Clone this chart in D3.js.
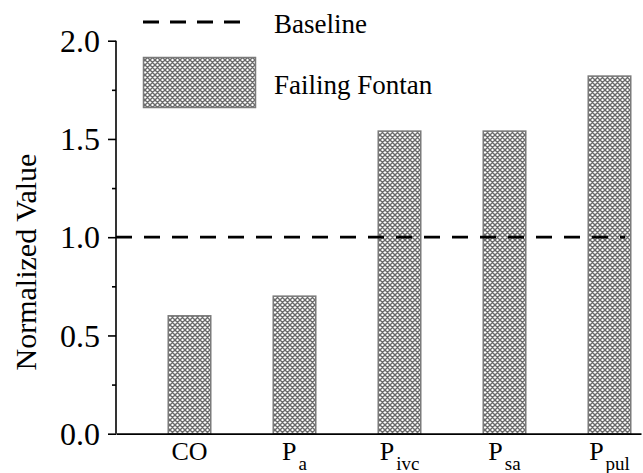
<!DOCTYPE html>
<html>
<head>
<meta charset="utf-8">
<script src="https://cdn.jsdelivr.net/npm/d3@7"></script>
<style>
  html, body { margin: 0; padding: 0; background: #fff; }
  svg { display: block; }
</style>
</head>
<body>
<svg id="chart" width="643" height="473"></svg>
<script>
// ---- data ----
const categories = ["CO", "P", "P", "P", "P"];
const subscripts = ["", "a", "ivc", "sa", "pul"];
const failingFontan = [0.60, 0.70, 1.54, 1.54, 1.82];
const baselineValue = 1.0;
const yMajorTicks = [0.0, 0.5, 1.0, 1.5, 2.0];
const yMinorTicks = [0.25, 0.75, 1.25, 1.75];
const legendLabels = ["Baseline", "Failing Fontan"];

const FONT = "Liberation Serif";

const svg = d3.select("#chart");

// pattern
const defs = svg.append("defs");
const pat = defs.append("pattern")
  .attr("id", "hatch")
  .attr("patternUnits", "userSpaceOnUse")
  .attr("width", 5).attr("height", 5);
pat.append("rect").attr("width", 5).attr("height", 5).attr("fill", "#fff");
pat.append("path")
  .attr("d", "M0,0 L5,5 M5,0 L0,5 M-1,4 L1,6 M4,-1 L6,1 M-1,1 L1,-1 M4,6 L6,4")
  .attr("stroke", "#6a6a6a").attr("stroke-width", 1.4).attr("fill", "none");

// scales
const x = d3.scaleLinear().domain([0.3, 5.3]).range([116, 641]);
const y = d3.scaleLinear().domain([0, 2]).range([433.7, 40.7]);
const barHalf = 0.2025;

// bars
svg.append("g").selectAll("rect")
  .data(failingFontan)
  .join("rect")
  .attr("x", (d, i) => x(i + 1 - barHalf))
  .attr("width", (d, i) => x(i + 1 + barHalf) - x(i + 1 - barHalf))
  .attr("y", d => y(d))
  .attr("height", d => y(0) - y(d))
  .attr("fill", "url(#hatch)")
  .attr("stroke", "#7a7a7a")
  .attr("stroke-width", 1.5);

// baseline dashed
svg.append("line")
  .attr("x1", x(0.3)).attr("x2", x(5.15))
  .attr("y1", y(baselineValue)).attr("y2", y(baselineValue))
  .attr("stroke", "#000").attr("stroke-width", 2.8)
  .attr("stroke-dasharray", "16,12");

// y axis major
const yAxis = svg.append("g")
  .attr("transform", `translate(${x(0.3)},0)`)
  .call(d3.axisLeft(y).tickValues(yMajorTicks).tickSize(8).tickPadding(8).tickFormat(d3.format(".1f")));
yAxis.attr("font-family", FONT).attr("font-size", 32);
yAxis.select(".domain").attr("stroke-width", 1.6).attr("d", `M-0,${y(2)}V${y(0)}`);
yAxis.selectAll(".tick line").attr("stroke-width", 1.6);
yAxis.selectAll(".tick text")
  .attr("x", -16)
  .attr("dy", "0.33em");

// y axis minor
const yMinor = svg.append("g")
  .attr("transform", `translate(${x(0.3)},0)`)
  .call(d3.axisLeft(y).tickValues(yMinorTicks).tickSize(4).tickFormat(""));
yMinor.select(".domain").remove();
yMinor.selectAll(".tick line").attr("stroke-width", 1.6);

// x axis
const xAxis = svg.append("g")
  .attr("transform", `translate(0,${y(0)})`)
  .call(d3.axisBottom(x).tickValues([]).tickSizeOuter(0));
xAxis.select(".domain").attr("stroke-width", 1.8);

// x labels
const xl = svg.append("g").attr("font-family", FONT).selectAll("text")
  .data(categories)
  .join("text")
  .attr("x", (d, i) => x(i + 1))
  .attr("y", 460)
  .attr("text-anchor", "middle")
  .attr("font-size", 26);
xl.append("tspan").text(d => d);
xl.append("tspan")
  .attr("dy", 10)
  .attr("dx", 2)
  .attr("font-size", 19)
  .text((d, i) => subscripts[i]);

// y label
svg.append("text")
  .attr("font-family", FONT)
  .attr("transform", `translate(35.5,262) rotate(-90)`)
  .attr("text-anchor", "middle")
  .attr("font-size", 30)
  .text("Normalized Value");

// legend
svg.append("line")
  .attr("x1", 143).attr("x2", 242)
  .attr("y1", 22).attr("y2", 22)
  .attr("stroke", "#000").attr("stroke-width", 2.8)
  .attr("stroke-dasharray", "16,11");
svg.append("text").attr("x", 274).attr("y", 33)
  .attr("font-family", FONT).attr("font-size", 27).text(legendLabels[0]);
svg.append("rect")
  .attr("x", 143.5).attr("y", 57.5).attr("width", 112).attr("height", 50)
  .attr("fill", "url(#hatch)").attr("stroke", "#7a7a7a").attr("stroke-width", 1.5);
svg.append("text").attr("x", 274).attr("y", 94)
  .attr("font-family", FONT).attr("font-size", 27).text(legendLabels[1]);
</script>
</body>
</html>
